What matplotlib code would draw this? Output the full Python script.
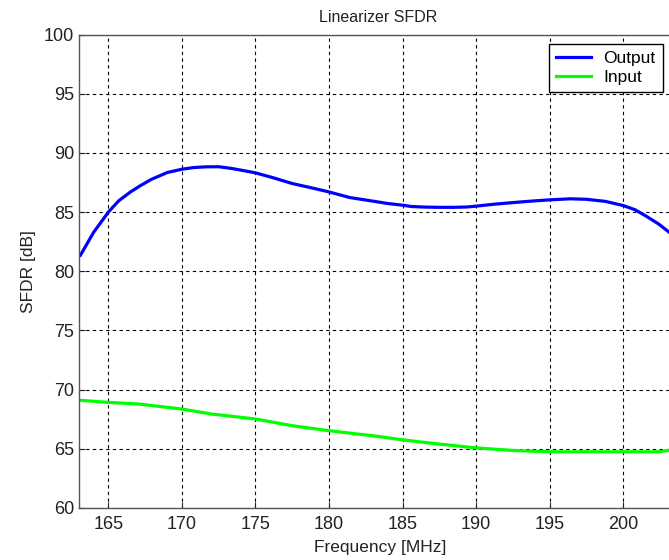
import matplotlib
matplotlib.use("Agg")
import matplotlib.pyplot as plt

plt.rcParams['font.family'] = ['Liberation Sans', 'DejaVu Sans']

freq_out = [163.1, 164, 165, 165.7, 166.5, 167.2, 167.9, 169, 170, 170.8, 171.6, 172.5, 173.4, 174.2, 175,
            176.2, 177.5, 178.8, 180, 181.4, 183, 184, 185, 185.6, 186.5, 187.5, 188.5, 189.4, 190,
            191.2, 192.5, 193.8, 195, 196.4, 197.5, 198.8, 200, 200.8, 201.5, 202.4, 203.3, 204]
sfdr_out = [81.36, 83.3, 85.0, 85.95, 86.7, 87.25, 87.75, 88.34, 88.62, 88.76, 88.82, 88.83, 88.68, 88.5, 88.31,
            87.9, 87.41, 87.05, 86.7, 86.23, 85.92, 85.72, 85.58, 85.47, 85.42, 85.4, 85.4, 85.43, 85.5,
            85.66, 85.8, 85.93, 86.03, 86.12, 86.08, 85.9, 85.55, 85.2, 84.7, 84.0, 83.13, 82.3]

freq_in = [163.1, 165, 167, 170, 172, 175, 177.5, 180, 183, 185, 187.5, 190, 192.5, 195,
           200, 202.4, 203.3, 204]
sfdr_in = [69.1, 68.92, 68.79, 68.36, 67.94, 67.52, 66.95, 66.53, 66.1, 65.76, 65.4, 65.08, 64.86, 64.75,
           64.75, 64.75, 64.9, 65.0]

xticks = [165, 170, 175, 180, 185, 190, 195, 200]
yticks = [60, 65, 70, 75, 80, 85, 90, 95, 100]

fig = plt.figure(figsize=(6.69, 5.60), dpi=100)
ax = fig.add_axes([79/669, 1 - 508/560, (682 - 79)/669, (508 - 34.5)/560])

ax.plot(freq_out, sfdr_out, color='#0000ff', lw=2.3, label='Output', solid_joinstyle='round')
ax.plot(freq_in, sfdr_in, color='#00ff00', lw=2.3, label='Input', solid_joinstyle='round')

ax.set_xlim(163, 204)
ax.set_ylim(60, 100)
ax.set_xticks(xticks)
ax.set_yticks(yticks)
ax.tick_params(direction='in', length=4, labelsize=13, colors='#222222', width=0.8)
ax.tick_params(axis='x', pad=6)
ax.grid(True, color='black', linestyle=(0, (3, 3)), linewidth=0.8)
for s in ax.spines.values():
    s.set_color('#555555')
    s.set_linewidth(1.0)

ax.set_xlabel('Frequency [MHz]', fontsize=12.5, color='#222222', labelpad=5)
ax.set_ylabel('SFDR [dB]', fontsize=12.5, color='#222222', labelpad=6)
fig.text(378/669, 1 - 17/560, 'Linearizer SFDR', ha='center', va='center', fontsize=11.5, color='#222222')

leg = ax.legend(loc='upper left', bbox_to_anchor=(549/669, 1 - 44/560), bbox_transform=fig.transFigure,
                fontsize=12.5, frameon=True, fancybox=False, framealpha=1, edgecolor='black',
                handlelength=2.0, handletextpad=0.7, borderpad=0.42, labelspacing=0.2, borderaxespad=0)
leg.get_frame().set_linewidth(1.0)

fig.savefig('out.png', dpi=100)
